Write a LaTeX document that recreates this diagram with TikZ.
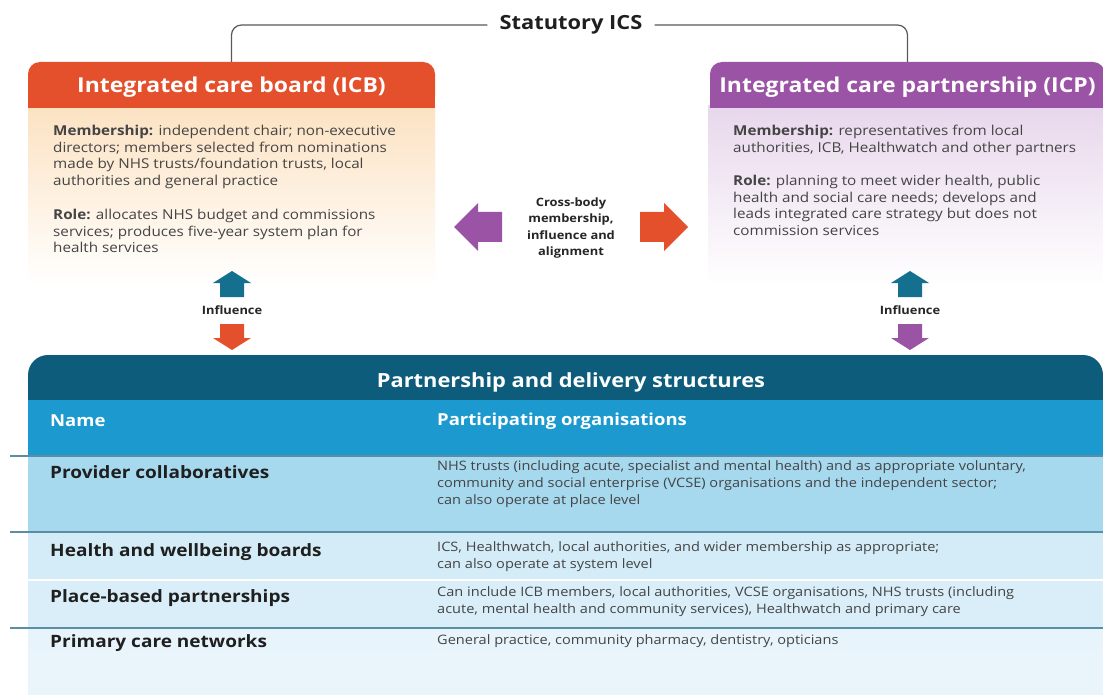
\documentclass[tikz,border=0pt]{standalone}
\usepackage{fontspec}
\setmainfont{Open Sans}[FakeStretch=1.12]
\usetikzlibrary{calc}

\definecolor{icbred}{HTML}{E4502B}
\definecolor{icbpeach}{HTML}{FCE2C2}
\definecolor{icppurple}{HTML}{9B53A6}
\definecolor{icplav}{HTML}{E8D7EC}
\definecolor{tealdark}{HTML}{0E5C7B}
\definecolor{midblue}{HTML}{1C9ACF}
\definecolor{provblue}{HTML}{A6D8EE}
\definecolor{hwbblue}{HTML}{D4ECF7}
\definecolor{placeblue}{HTML}{D9EEF8}
\definecolor{pcnblue}{HTML}{EAF5FB}
\definecolor{rowline}{HTML}{5A8EA3}
\definecolor{arrowteal}{HTML}{14708E}
\definecolor{bodytext}{HTML}{444444}

\tikzset{
	bigarrow/.pic={\fill[pic actions] (-24,-15) -- (0,-15) -- (0,-24) -- (24,0) -- (0,24) -- (0,15) -- (-24,15) -- cycle;},
	smallarrow/.pic={\fill[pic actions] (-13,-12) -- (1,-12) -- (1,-19) -- (13,0) -- (1,19) -- (1,12) -- (-13,12) -- cycle;},
}

\begin{document}
\begin{tikzpicture}[x=1pt,y=-1pt,
	header/.style={inner sep=0, minimum height=46, rounded corners=12},
	headtext/.style={text=white, font=\fontsize{20.5}{24}\selectfont\bfseries},
	bodybox/.style={anchor=north west, inner sep=0, align=left, text=bodytext, font=\fontsize{13.6}{16.7}\selectfont},
	smallbold/.style={font=\fontsize{11.5}{16.5}\selectfont\bfseries, text=black!85, align=center, inner sep=0},
	rowname/.style={anchor=west, inner sep=0, text=black!88, font=\fontsize{17}{20}\selectfont\bfseries},
	roworgs/.style={anchor=north west, inner sep=0, align=left, text=bodytext, font=\fontsize{13}{17.2}\selectfont},
	colhead/.style={anchor=west, inner sep=0, text=white, font=\fontsize{16.5}{20}\selectfont\bfseries},
	rowsep/.style={line width=1.6pt, rowline}]

	\useasboundingbox (0,0) rectangle (1103,695);
	\fill[white] (0,0) rectangle (1103,695);

	% statutory bodies
	\node[font=\fontsize{19.5}{24}\selectfont\bfseries, text=black!88, inner sep=0] (ics) at (571,25) {Statutory ICS};

	\shade[top color=icbpeach, bottom color=white] (28,106) rectangle (435,285);
	\shade[top color=icplav, bottom color=white] (708,106) rectangle (1103,285);

	\node[header, fill=icbred, minimum width=407] (icb) at (231.5,85) {};
	\fill[icbred] ($(icb.south west)+(0,-14)$) rectangle (icb.south east);
	\node[headtext] at ([yshift=-2]icb.center) {Integrated care board (ICB)};

	\node[header, fill=icppurple, minimum width=395] (icp) at (907.5,85) {};
	\fill[icppurple] ($(icp.south west)+(0,-14)$) rectangle (icp.south east);
	\node[headtext] at ([yshift=-2]icp.center) {Integrated care partnership (ICP)};

	\draw[gray!70!black, line width=1.2pt, rounded corners=10] (icb.north) |- ([xshift=-12]ics.west);
	\draw[gray!70!black, line width=1.2pt, rounded corners=10] ([xshift=12]ics.east) -| (icp.north);

	\node[bodybox] (icbmember) at (53,125) {\textbf{Membership:} independent chair; non-executive\\
		directors; members selected from nominations\\
		made by NHS trusts/foundation trusts, local\\
		authorities and general practice};
	\node[bodybox] (icbrole) at (53,209) {\textbf{Role:} allocates NHS budget and commissions\\
		services; produces five-year system plan for\\
		health services};

	\node[bodybox] (icpmember) at (733,125) {\textbf{Membership:} representatives from local\\
		authorities, ICB, Healthwatch and other partners};
	\node[bodybox] (icprole) at (733,175) {\textbf{Role:} planning to meet wider health, public\\
		health and social care needs; develops and\\
		leads integrated care strategy but does not\\
		commission services};

	% cross-body
	\node[smallbold] (crossbody) at (571,228) {Cross-body\\membership,\\influence and\\alignment};
	\pic[fill=icppurple, rotate=180] at (478,227) {bigarrow};
	\pic[fill=icbred] at (664,227) {bigarrow};

	% influence
	\node[smallbold] (inflleft) at (232,310) {Influence};
	\pic[fill=arrowteal, rotate=90] at (232,284) {smallarrow};
	\pic[fill=icbred, rotate=-90] at (232,337) {smallarrow};

	\node[smallbold] (inflright) at (910,310) {Influence};
	\pic[fill=arrowteal, rotate=90] at (910,284) {smallarrow};
	\pic[fill=icppurple, rotate=-90] at (910,337) {smallarrow};

	% partnership and delivery structures
	\fill[tealdark] (28,401) [rounded corners=20] -- (28,355) -- (1103,355) [sharp corners] -- (1103,401) -- cycle;
	\fill[midblue] (28,400) rectangle (1103,456);
	\fill[provblue] (28,456) rectangle (1103,532);
	\fill[hwbblue] (28,532) rectangle (1103,580);
	\fill[placeblue] (28,580) rectangle (1103,628);
	\shade[top color=pcnblue!90!hwbblue, bottom color=pcnblue] (28,628) rectangle (1103,695);
	\draw[rowsep] (10,456) -- (1103,456);
	\draw[rowsep] (10,532) -- (1103,532);
	\draw[white, line width=1.5pt] (28,580) -- (1103,580);
	\draw[rowsep, line width=1.2pt] (10,628) -- (1103,628);

	\node[font=\fontsize{19.5}{24}\selectfont\bfseries, text=white, inner sep=0] (pds) at (571,382) {Partnership and delivery structures};
	\node[colhead] (colname) at (50,421) {Name};
	\node[colhead] (colorgs) at (437,421) {Participating organisations};

	\node[rowname] (provider) at (50,472) {Provider collaboratives};
	\node[roworgs] (providerorgs) at (437,460) {NHS trusts (including acute, specialist and mental health) and as appropriate voluntary,\\
		community and social enterprise (VCSE) organisations and the independent sector;\\
		can also operate at place level};
	\node[rowname] (hwb) at (50,552) {Health and wellbeing boards};
	\node[roworgs] (hwborgs) at (437,541) {ICS, Healthwatch, local authorities, and wider membership as appropriate;\\
		can also operate at system level};
	\node[rowname] (place) at (50,598) {Place-based partnerships};
	\node[roworgs] (placeorgs) at (437,586) {Can include ICB members, local authorities, VCSE organisations, NHS trusts (including\\
		acute, mental health and community services), Healthwatch and primary care};
	\node[rowname] (pcn) at (50,643) {Primary care networks};
	\node[roworgs] (pcnorgs) at (437,634) {General practice, community pharmacy, dentistry, opticians};

\end{tikzpicture}
\end{document}
